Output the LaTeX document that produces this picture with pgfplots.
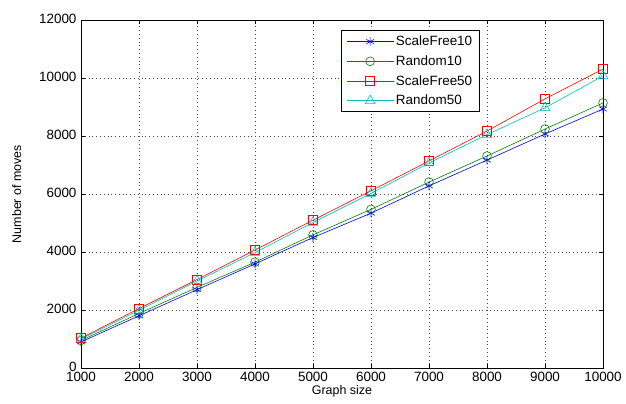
\documentclass[border=0pt]{standalone}
\usepackage{fontspec}
\setmainfont{Liberation Sans}
\usepackage{pgfplots}
\pgfplotsset{compat=1.18}

\definecolor{mblue}{rgb}{0,0,1}
\definecolor{mgreen}{rgb}{0,0.5,0}
\definecolor{mred}{rgb}{1,0,0}
\definecolor{mcyan}{rgb}{0,0.75,0.75}

\begin{document}
\begin{tikzpicture}
\begin{axis}[
  scale only axis,
  width=522bp, height=348bp,
  xmin=1000, xmax=10000,
  ymin=0, ymax=12000,
  xtick={1000,2000,...,10000},
  ytick={0,2000,...,12000},
  scaled ticks=false,
  /pgf/number format/.cd, assume math mode=true, set thousands separator={}, fixed,
  /pgfplots/.cd,
  tick align=inside,
  tick pos=both,
  major tick length=4bp,
  xmajorgrids, ymajorgrids,
  grid style={black!70, line width=0.5pt, dash pattern=on 0.8pt off 3pt},
  axis line style={black, line width=0.8pt},
  tick style={black, line width=0.6pt},
  ticklabel style={font=\fontsize{13.5}{15}\selectfont},
  xticklabel style={yshift=-3bp, inner ysep=1bp},
  yticklabel style={xshift=-1bp, yshift=1.5bp, inner ysep=1bp},
  label style={font=\fontsize{12.5}{14}\selectfont},
  xlabel={Graph size},
  ylabel={Number of moves},
  xlabel style={yshift=1bp},
  ylabel style={yshift=11bp},
  legend style={
    at={(0.498,0.971)}, anchor=north west,
    draw=black, line width=0.8pt, fill=white,
    font=\fontsize{13.5}{15}\selectfont,
    row sep=4.5bp, inner xsep=5bp, inner ysep=3.5bp,
    cells={anchor=west},
  },
  legend image code/.code={
    \draw[#1, line width=0.6pt] (0bp,0bp) -- (47bp,0bp);
    \draw[#1, line width=0.6pt, only marks] plot coordinates {(23.5bp,0bp)};
  },
  every axis plot/.append style={line width=0.6pt, mark size=4.4bp, mark options={solid, line width=0.6pt}},
]
\addplot[mblue, mark=asterisk] coordinates {
 (1000,900) (2000,1800) (3000,2700) (4000,3590) (5000,4500)
 (6000,5340) (7000,6280) (8000,7170) (9000,8070) (10000,8930)};
\addlegendentry{ScaleFree10}
\addplot[mgreen, mark=o] coordinates {
 (1000,950) (2000,1880) (3000,2780) (4000,3650) (5000,4590)
 (6000,5470) (7000,6410) (8000,7310) (9000,8240) (10000,9140)};
\addlegendentry{Random10}
\addplot[mred, mark=square] coordinates {
 (1000,1030) (2000,2050) (3000,3050) (4000,4070) (5000,5100)
 (6000,6110) (7000,7140) (8000,8170) (9000,9280) (10000,10310)};
\addlegendentry{ScaleFree50}
\addplot[mcyan, mark=triangle, mark size=5.6bp] coordinates {
 (1000,1000) (2000,1990) (3000,3000) (4000,3980) (5000,5020)
 (6000,6020) (7000,7070) (8000,8050) (9000,8970) (10000,10070)};
\addlegendentry{Random50}
\end{axis}
\useasboundingbox (current axis.south west) ++(-81bp,-35bp) rectangle ([shift={(23bp,20bp)}]current axis.north east);
\end{tikzpicture}
\end{document}
